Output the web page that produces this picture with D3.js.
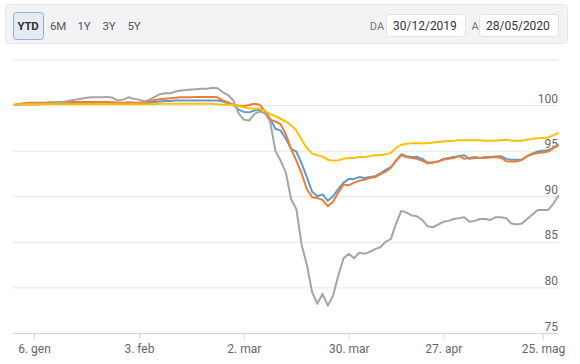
<!DOCTYPE html>
<html>
<head>
<meta charset="utf-8">
<script src="https://cdn.jsdelivr.net/npm/d3@7"></script>
<style>
    body { margin: 0; background: #fff; font-family: Roboto, sans-serif; }
    svg { display: block; }
</style>
</head>
<body>
<svg id="chart" width="580" height="364"></svg>
<script>
// trading days (Borsa Italiana), 30/12/2019 - 28/05/2020
var startDate = '2019-12-30';
var endDate = '2020-05-28';
var holidays = ['2020-01-01', '2020-04-10', '2020-04-13', '2020-05-01'];

var rangeButtons = ['YTD', '6M', '1Y', '3Y', '5Y'];
var fromLabel = '30/12/2019';
var toLabel = '28/05/2020';

var xTickDates = ['2020-01-06', '2020-02-03', '2020-03-02', '2020-03-30', '2020-04-27', '2020-05-25'];
var xTickLabels = ['6. gen', '3. feb', '2. mar', '30. mar', '27. apr', '25. mag'];
var yTicks = [75, 80, 85, 90, 95, 100, 105];
var yLabels = [75, 80, 85, 90, 95, 100];

var blueValues = [
    100, 100.05, 100.1, 100.1, 100.1, 100.1, 100.15, 100.15, 100.15, 100.2,
    100.2, 100.2, 100.2, 100.25, 100.25, 100.25, 100.25, 100.25, 100.25, 100.2,
    100.15, 100.2, 100.2, 100.2, 100.2, 100.15, 100.25, 100.35, 100.4, 100.45,
    100.45, 100.5, 100.5, 100.5, 100.5, 100.5, 100.5, 100.5, 100.5, 100.5,
    100.4, 100.2, 100.0, 99.5, 99.25, 99.2, 99.4, 99.5, 99.4, 98.5,
    97.4, 97.2, 96.3, 95.2, 94.9, 93.6, 92.1, 90.5, 90.0, 90.2,
    89.5, 90.0, 90.8, 91.5, 91.9, 91.9, 92.1, 92.0, 92.1, 92.2,
    92.5, 92.9, 93.2, 93.9, 94.6, 94.4, 94.3, 94.3, 94.1, 93.7,
    93.7, 93.8, 94.1, 94.2, 94.3, 94.4, 94.5, 94.1, 94.2, 94.2,
    94.3, 94.3, 94.35, 94.4, 94.1, 94.0, 94.0, 94.0, 94.4, 94.7,
    94.9, 95.0, 95.05, 95.3, 95.6
];

var orangeValues = [
    100, 100.1, 100.2, 100.25, 100.25, 100.25, 100.25, 100.3, 100.3, 100.3,
    100.3, 100.35, 100.35, 100.35, 100.35, 100.35, 100.35, 100.35, 100.35, 100.3,
    100.25, 100.25, 100.3, 100.25, 100.25, 100.25, 100.4, 100.55, 100.65, 100.7,
    100.75, 100.8, 100.85, 100.85, 100.85, 100.9, 100.9, 100.9, 100.9, 100.85,
    100.5, 100.3, 100.05, 99.95, 99.9, 100.0, 100.15, 100.05, 99.4, 98.4,
    98.2, 97.9, 96.8, 95.2, 93.9, 92.5, 90.8, 89.9, 89.8, 89.6,
    88.9, 89.4, 90.4, 91.3, 91.2, 91.5, 91.7, 91.8, 92.0, 92.1,
    92.4, 92.7, 93.1, 93.9, 94.5, 94.3, 94.2, 94.1, 93.9, 93.6,
    93.7, 93.8, 94.0, 94.1, 94.2, 94.4, 94.1, 94.2, 94.3, 94.2,
    94.2, 94.25, 94.3, 94.2, 93.85, 93.8, 93.8, 94.0, 94.4, 94.6,
    94.75, 94.8, 94.9, 95.3, 95.7
];

var grayValues = [
    100, 100.05, 100.1, 100.1, 100.1, 100.1, 100.2, 100.2, 100.2, 100.3,
    100.4, 100.5, 100.6, 100.7, 100.8, 100.85, 100.85, 100.85, 100.9, 100.8,
    100.5, 100.6, 100.85, 100.7, 100.6, 100.4, 100.6, 100.9, 101.2, 101.3,
    101.3, 101.5, 101.6, 101.65, 101.7, 101.75, 101.8, 101.8, 101.9, 101.85,
    101.4, 101.1, 100.5, 99.1, 98.4, 98.3, 99.0, 99.3, 99.1, 98.2,
    95.0, 93.9, 92.6, 89.7, 88.6, 84.7, 82.5, 79.5, 78.2, 79.3,
    78.0, 79.1, 81.3, 83.2, 83.7, 83.2, 83.8, 83.7, 83.9, 84.2,
    84.4, 85.0, 85.3, 87.0, 88.4, 88.2, 87.9, 87.8, 87.4, 86.7,
    86.6, 86.9, 87.2, 87.3, 87.5, 87.6, 87.7, 87.2, 87.3, 87.5,
    87.5, 87.4, 87.7, 87.7, 87.6, 87.0, 86.9, 87.0, 87.5, 88.0,
    88.5, 88.5, 88.5, 89.2, 90.1
];

var yellowValues = [
    100, 100.05, 100.1, 100.1, 100.1, 100.1, 100.1, 100.1, 100.1, 100.1,
    100.1, 100.1, 100.1, 100.1, 100.1, 100.1, 100.1, 100.1, 100.1, 100.1,
    100.1, 100.1, 100.1, 100.1, 100.1, 100.1, 100.1, 100.1, 100.15, 100.15,
    100.15, 100.15, 100.15, 100.15, 100.15, 100.15, 100.15, 100.15, 100.15, 100.1,
    100.05, 100.05, 100.0, 99.9, 99.75, 99.65, 99.6, 99.6, 99.4, 99.0,
    98.8, 98.5, 98.2, 97.8, 97.2, 96.2, 95.3, 94.7, 94.5, 94.35,
    94.0, 93.9, 93.95, 94.1, 94.2, 94.2, 94.3, 94.3, 94.4, 94.5,
    94.5, 94.6, 94.75, 95.3, 95.65, 95.75, 95.8, 95.85, 95.8, 95.8,
    95.9, 95.95, 96.0, 96.05, 96.1, 96.15, 96.15, 96.15, 96.15, 96.15,
    96.1, 96.1, 96.1, 96.15, 96.2, 96.1, 96.1, 96.1, 96.2, 96.3,
    96.35, 96.4, 96.45, 96.7, 96.95
];

var series = [
    { name: 'blue', color: '#5b9bd5', values: blueValues },
    { name: 'orange', color: '#ed7d31', values: orangeValues },
    { name: 'gray', color: '#a5a5a5', values: grayValues },
    { name: 'yellow', color: '#ffc000', values: yellowValues }
];

// build trading-day list (weekends and exchange holidays skipped)
function tradingDays(from, to, skip) {
    var out = [];
    var fmt = d3.utcFormat('%Y-%m-%d');
    d3.utcDays(new Date(from + 'T00:00:00Z'), d3.utcDay.offset(new Date(to + 'T00:00:00Z'), 1)).forEach(function(d) {
        var wd = d.getUTCDay();
        var key = fmt(d);
        if (wd !== 0 && wd !== 6 && skip.indexOf(key) < 0) {
            out.push(key);
        }
    });
    return out;
}

var dates = tradingDays(startDate, endDate, holidays);

var svg = d3.select('#chart');

// ---- range selector bar ----
var bar = svg.append('g').attr('class', 'range-selector');

bar.append('rect')
    .attr('x', 5.5).attr('y', 4.5)
    .attr('width', 562).attr('height', 39)
    .attr('rx', 4)
    .attr('fill', '#f3f3f6')
    .attr('stroke', '#e6e6ec');

var buttonCenters = [28, 58, 84, 109, 134];

bar.append('rect')
    .attr('x', 13.5).attr('y', 12.5)
    .attr('width', 30).attr('height', 27)
    .attr('rx', 3)
    .attr('fill', '#e4ebf3')
    .attr('stroke', '#8db1d8');

bar.selectAll('text.btn')
    .data(rangeButtons)
    .enter()
    .append('text')
    .attr('class', 'btn')
    .attr('x', function(d, i) { return buttonCenters[i]; })
    .attr('y', 30)
    .attr('text-anchor', 'middle')
    .attr('font-size', 11.5)
    .attr('font-weight', function(d, i) { return i === 0 ? 'bold' : 'normal'; })
    .attr('fill', function(d, i) { return i === 0 ? '#333' : '#555'; })
    .attr('letter-spacing', -0.3)
    .text(function(d) { return d; });

var inputs = [
    { label: 'DA', labelX: 377, boxX: 386, text: fromLabel },
    { label: 'A', labelX: 475, boxX: 479, text: toLabel }
];

inputs.forEach(function(inp) {
    bar.append('text')
        .attr('x', inp.labelX).attr('y', 30)
        .attr('text-anchor', 'middle')
        .attr('font-size', 11)
        .attr('fill', '#777')
        .text(inp.label);
    bar.append('rect')
        .attr('x', inp.boxX + 0.5).attr('y', 14.5)
        .attr('width', 79).attr('height', 22)
        .attr('rx', 3)
        .attr('fill', '#fff')
        .attr('stroke', '#e2e2e6');
    bar.append('text')
        .attr('x', inp.boxX + 7).attr('y', 30)
        .attr('font-size', 12)
        .attr('fill', '#333')
        .text(inp.text);
});

// ---- plot ----
var plotLeft = 13;
var plotRight = 558.7;
var plotTop = 59.5;
var plotBottom = 333;
var gridRight = 558;

var x = d3.scaleLinear()
    .domain([0, dates.length - 1])
    .range([plotLeft, plotRight]);

var y = d3.scaleLinear()
    .domain([75, 105])
    .range([plotBottom, plotTop]);

// y grid + labels
var yAxis = svg.append('g')
    .attr('class', 'y-axis')
    .attr('transform', 'translate(' + plotLeft + ',0)')
    .call(d3.axisRight(y)
        .tickValues(yTicks)
        .tickSize(gridRight - plotLeft)
        .tickFormat(function(d) { return yLabels.indexOf(d) >= 0 ? d : ''; }));

yAxis.select('.domain').remove();
yAxis.selectAll('.tick line')
    .attr('stroke', '#e6e6e6');
yAxis.selectAll('.tick text')
    .attr('x', gridRight - plotLeft)
    .attr('dy', -3)
    .attr('text-anchor', 'end')
    .attr('font-family', 'Roboto, sans-serif')
    .attr('font-size', 12)
    .attr('fill', '#666');

// x axis
var xTickIdx = xTickDates.map(function(d) { return dates.indexOf(d); });

var xAxis = svg.append('g')
    .attr('class', 'x-axis')
    .attr('transform', 'translate(0,' + plotBottom + ')')
    .call(d3.axisBottom(x)
        .tickValues(xTickIdx)
        .tickSize(6)
        .tickSizeOuter(0)
        .tickFormat(function(d, i) { return xTickLabels[i]; }));

xAxis.select('.domain')
    .attr('stroke', '#ccd6eb')
    .attr('d', 'M' + plotLeft + ',0.5H' + gridRight);
xAxis.selectAll('.tick line')
    .attr('stroke', '#ccd6eb');
xAxis.selectAll('.tick text')
    .attr('y', 11)
    .attr('font-family', 'Roboto, sans-serif')
    .attr('font-size', 12)
    .attr('fill', '#666');

// lines
var line = d3.line()
    .x(function(d, i) { return x(i); })
    .y(function(d) { return y(d); });

svg.append('g')
    .attr('class', 'series')
    .selectAll('path')
    .data(series)
    .enter()
    .append('path')
    .attr('fill', 'none')
    .attr('stroke', function(d) { return d.color; })
    .attr('stroke-width', 2)
    .attr('stroke-linejoin', 'round')
    .attr('d', function(d) { return line(d.values); });
</script>
</body>
</html>
